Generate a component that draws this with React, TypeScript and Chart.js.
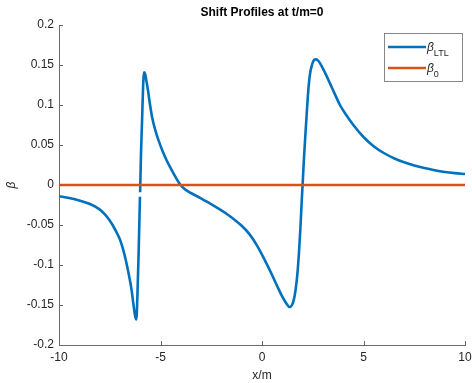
import React, { useEffect, useRef } from "react";
import { Chart, registerables } from "chart.js";

Chart.register(...registerables);

const xValues: number[] = [
  -10, -9.5, -9, -8.5, -8, -7.75, -7.5, -7.25, -7.1, -7.0, -6.9, -6.8, -6.7, -6.6, -6.5, -6.42,
  -6.35, -6.28, -6.23, -6.2, -6.17, -6.14, -6.08, -6.012, -6.008, -6.004, -5.96, -5.91, -5.86,
  -5.83, -5.8, -5.75, -5.7, -5.62, -5.52, -5.4, -5.25, -5.1, -4.9, -4.7, -4.5, -4.25, -4.04, -3.8,
  -3.5, -3.05, -2.6, -2.2, -1.8, -1.4, -1.0, -0.6, -0.25, 0.1, 0.45, 0.75, 1.0, 1.2, 1.35, 1.48,
  1.58, 1.66, 1.74, 1.82, 1.9, 1.96, 2.0, 2.06, 2.13, 2.2, 2.28, 2.36, 2.46, 2.56, 2.66, 2.78, 2.95,
  3.15, 3.35, 3.6, 3.84, 4.15, 4.5, 5.0, 5.5, 6.0, 6.5, 7.0, 7.5, 8.0, 8.5, 9.0, 9.5, 10,
];

const betaLTL: (number | null)[] = [
  -0.014, -0.0163, -0.0193, -0.0235, -0.0305, -0.0365, -0.0445, -0.055, -0.0625, -0.068, -0.0755,
  -0.0845, -0.095, -0.107, -0.12, -0.132, -0.146, -0.159, -0.166, -0.168, -0.162, -0.14, -0.088,
  -0.0146, null, -0.009, 0.04, 0.079, 0.121, 0.136, 0.141, 0.138, 0.131, 0.119, 0.101, 0.083, 0.068,
  0.056, 0.0425, 0.031, 0.021, 0.0095, 0.001, -0.0052, -0.01, -0.016, -0.0225, -0.0285, -0.035,
  -0.0425, -0.051, -0.062, -0.0755, -0.092, -0.11, -0.1265, -0.1395, -0.148, -0.1525, -0.15, -0.142,
  -0.13, -0.112, -0.085, -0.05, -0.018, 0, 0.03, 0.06, 0.088, 0.118, 0.138, 0.15, 0.156, 0.157,
  0.155, 0.148, 0.138, 0.127, 0.113, 0.1, 0.0875, 0.075, 0.06, 0.0485, 0.04, 0.0335, 0.0285, 0.0245,
  0.0212, 0.0185, 0.0163, 0.0148, 0.0137,
];

const zeroX: number[] = [-10, 10];
const betaZero: number[] = [0, 0];

const yTicks: number[] = [-0.2, -0.15, -0.1, -0.05, 0, 0.05, 0.1, 0.15, 0.2];
const xTicks: number[] = [-10, -5, 0, 5, 10];

const titleText = "Shift Profiles at t/m=0";
const xLabel = "x/m";
const yLabel = "β";
const legendNames: [string, string][] = [
  ["β", "LTL"],
  ["β", "0"],
];

const BLUE = "#0072BD";
const ORANGE = "#D95319";
const AXIS = "#262626";
const AXISLINE = "#6a6a6a";
const FONT = "'Liberation Sans', Arial, sans-serif";

const fmt = (v: number) => {
  const r = Math.round(v * 100) / 100;
  return r === 0 ? "0" : String(r);
};

export default function App() {
  const ref = useRef<HTMLCanvasElement | null>(null);

  useEffect(() => {
    document.body.style.margin = "0";
    const canvas = ref.current;
    if (!canvas) return;

    const overlay = {
      id: "matlabOverlay",
      afterDraw(chart: any) {
        const ctx = chart.ctx as CanvasRenderingContext2D;
        const xs = chart.scales.x;
        const ys = chart.scales.y;
        const area = chart.chartArea;
        ctx.save();
        // inward ticks
        ctx.strokeStyle = AXISLINE;
        ctx.lineWidth = 1;
        ctx.beginPath();
        for (const t of yTicks) {
          const py = Math.round(ys.getPixelForValue(t)) + 0.5;
          ctx.moveTo(area.left, py);
          ctx.lineTo(area.left + 4, py);
        }
        for (const t of xTicks) {
          const px = Math.round(xs.getPixelForValue(t)) + 0.5;
          ctx.moveTo(px, area.bottom);
          ctx.lineTo(px, area.bottom - 4);
        }
        ctx.stroke();

        // tick labels
        ctx.fillStyle = AXIS;
        ctx.font = `12px ${FONT}`;
        ctx.textAlign = "right";
        ctx.textBaseline = "middle";
        for (const t of yTicks) {
          ctx.fillText(fmt(t), area.left - 5, ys.getPixelForValue(t));
        }
        ctx.textAlign = "center";
        for (const t of xTicks) {
          ctx.fillText(fmt(t), xs.getPixelForValue(t), area.bottom + 13);
        }

        // title
        ctx.fillStyle = "#000";
        ctx.font = `bold 12px ${FONT}`;
        ctx.textAlign = "center";
        ctx.textBaseline = "middle";
        ctx.fillText(titleText, (area.left + area.right) / 2, 13);

        // x label
        ctx.fillStyle = AXIS;
        ctx.font = `12px ${FONT}`;
        ctx.fillText(xLabel, (area.left + area.right) / 2, 376);

        // y label
        ctx.save();
        ctx.translate(12, (area.top + area.bottom) / 2);
        ctx.rotate(-Math.PI / 2);
        ctx.font = `italic 12px ${FONT}`;
        ctx.fillText(yLabel, 0, 0);
        ctx.restore();

        // legend
        const bx = 384.5, by = 33.5, bw = 78, bh = 48;
        ctx.fillStyle = "#fff";
        ctx.fillRect(bx, by, bw, bh);
        ctx.strokeStyle = AXISLINE;
        ctx.lineWidth = 0.8;
        ctx.strokeRect(bx, by, bw, bh);
        const rows = [
          { y: 47, color: BLUE, name: legendNames[0] },
          { y: 68, color: ORANGE, name: legendNames[1] },
        ];
        for (const r of rows) {
          ctx.strokeStyle = r.color;
          ctx.lineWidth = 2.6;
          ctx.beginPath();
          ctx.moveTo(388, r.y);
          ctx.lineTo(426, r.y);
          ctx.stroke();
          ctx.fillStyle = AXIS;
          ctx.textAlign = "left";
          ctx.textBaseline = "alphabetic";
          ctx.font = `italic 12px ${FONT}`;
          ctx.fillText(r.name[0], 427, r.y + 4);
          const w = ctx.measureText(r.name[0]).width;
          ctx.font = `9px ${FONT}`;
          ctx.fillText(r.name[1], 427 + w, r.y + 9);
        }
        ctx.restore();
      },
    };

    const chart = new Chart(canvas, {
      type: "line",
      data: {
        datasets: [
          {
            label: "β_LTL",
            data: xValues.map((x, i) => ({ x, y: betaLTL[i] })),
            borderColor: BLUE,
            borderWidth: 2.6,
            pointRadius: 0,
            cubicInterpolationMode: "monotone",
            spanGaps: false,
            fill: false,
            order: 2,
          },
          {
            label: "β_0",
            data: zeroX.map((x, i) => ({ x, y: betaZero[i] })),
            borderColor: ORANGE,
            borderWidth: 2.6,
            pointRadius: 0,
            fill: false,
            order: 1,
          },
        ],
      },
      options: {
        responsive: false,
        animation: false,
        devicePixelRatio: 1,
        layout: { padding: { left: 0, top: 25, right: 7, bottom: 0 } },
        plugins: {
          legend: { display: false },
          title: { display: false },
          tooltip: { enabled: false },
        },
        scales: {
          x: {
            type: "linear",
            min: -10,
            max: 10,
            afterFit: (s: any) => {
              s.height = 38;
              s.paddingLeft = 0;
              s.paddingRight = 0;
            },
            grid: { display: false, drawTicks: false },
            border: { display: true, color: AXISLINE, width: 1 },
            ticks: { display: false },
          },
          y: {
            type: "linear",
            min: -0.2,
            max: 0.2,
            afterFit: (s: any) => {
              s.width = 59;
              s.paddingTop = 0;
              s.paddingBottom = 0;
            },
            grid: { display: false, drawTicks: false },
            border: { display: true, color: AXISLINE, width: 1 },
            ticks: { display: false },
          },
        },
      },
      plugins: [overlay],
    } as any);

    return () => chart.destroy();
  }, []);

  return (
    <div style={{ width: 472, height: 383 }}>
      <canvas ref={ref} width={472} height={383} />
    </div>
  );
}
